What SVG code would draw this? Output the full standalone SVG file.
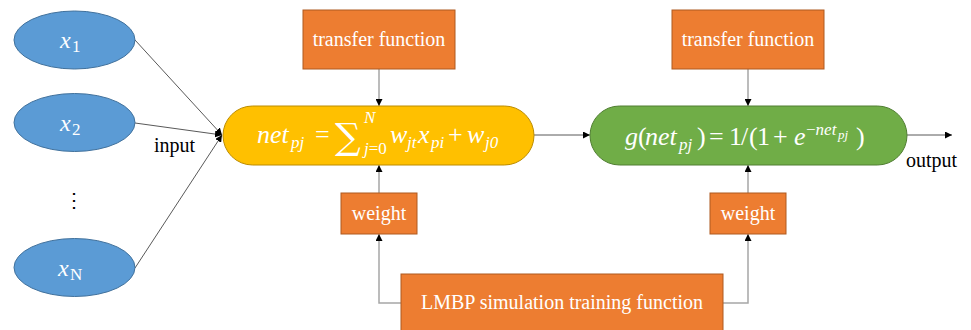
<svg xmlns="http://www.w3.org/2000/svg" width="971" height="330" viewBox="0 0 971 330">
<defs>
<marker id="ah" viewBox="0 0 10 10" refX="10" refY="5" markerWidth="7" markerHeight="7" markerUnits="userSpaceOnUse" orient="auto">
<path d="M0,0 L10,5 L0,10 z" fill="#000"/>
</marker>
<style>
.ell{fill:#5B9BD5;stroke:#41719C;stroke-width:1}
.box{fill:#ED7D31;stroke:#AE5A21;stroke-width:1}
.yel{fill:#FFC000;stroke:#BC8C00;stroke-width:1}
.grn{fill:#70AD47;stroke:#507E32;stroke-width:1}
.lbl{font-family:"Liberation Serif",serif;font-size:20px;fill:#fff;text-anchor:middle}
.blk{font-family:"Liberation Serif",serif;font-size:20px;fill:#000}
.m{font-family:"Liberation Serif","DejaVu Serif",serif;fill:#fff;font-style:italic;font-size:26px}
.e{font-size:24px}
.s{font-size:17px}
.ss{font-size:13px}
.n{font-style:normal}
.sig{font-family:"DejaVu Serif",serif;font-style:normal;font-size:36px}
.c1{fill:none;stroke:#595959;stroke-width:1;marker-end:url(#ah)}
.c2{fill:none;stroke:#A6A6A6;stroke-width:1.5;marker-end:url(#ah)}
</style>
</defs>
<g id="connectors">
<path class="c1" d="M135,40 L222,135"/>
<path class="c1" d="M135,123 L222,135"/>
<path class="c1" d="M135,268 L222,135"/>
<path class="c2" d="M379,69 L379,106"/>
<path class="c2" d="M748,69 L748,106"/>
<path class="c2" d="M379,193 L379,165"/>
<path class="c2" d="M748,193 L748,165"/>
<path class="c2" d="M401,303 L379,303 L379,234"/>
<path class="c2" d="M723,303 L748,303 L748,234"/>
<path class="c1" d="M534,135 L590,135"/>
<path class="c1" d="M907,135 L952,135"/>
</g>
<g id="x1"><ellipse class="ell" cx="74.5" cy="40" rx="60.5" ry="29"/>
<text class="m e" x="60" y="48">x<tspan class="n s" x="72" dy="4">1</tspan></text></g>
<g id="x2"><ellipse class="ell" cx="74.5" cy="122.5" rx="60.5" ry="29"/>
<text class="m e" x="60" y="131">x<tspan class="n s" x="72" dy="4">2</tspan></text></g>
<g id="dots"><text class="blk" x="74" y="207" font-size="16" text-anchor="middle">⋮</text></g>
<g id="xN"><ellipse class="ell" cx="74.5" cy="267.5" rx="60.5" ry="29"/>
<text class="m e" x="58" y="276">x<tspan class="n s" x="70" dy="4">N</tspan></text></g>
<g id="input-label"><text class="blk" x="154" y="152">input</text></g>
<g id="output-label"><text class="blk" x="906" y="167">output</text></g>
<g id="tf1"><rect class="box" x="303" y="10" width="152" height="59"/><text class="lbl" x="379" y="46">transfer function</text></g>
<g id="tf2"><rect class="box" x="672" y="10" width="152" height="59"/><text class="lbl" x="748" y="46">transfer function</text></g>
<g id="w1"><rect class="box" x="341" y="193" width="76" height="41"/><text class="lbl" x="379" y="220">weight</text></g>
<g id="w2"><rect class="box" x="710" y="193" width="76" height="41"/><text class="lbl" x="748" y="220">weight</text></g>
<g id="lmbp"><rect class="box" x="401" y="274" width="322" height="60"/><text class="lbl" x="562" y="309">LMBP simulation training function</text></g>
<g id="net">
<rect class="yel" x="223" y="106" width="311" height="59" rx="29.5"/>
<text class="m" x="257" y="143">net<tspan class="s" x="291" dy="5">pj</tspan><tspan class="n" x="315" dy="-5">=</tspan></text>
<text class="m sig" x="335" y="149">∑</text>
<text class="m s" x="364" y="123">N</text>
<text class="m s" x="364" y="154">j<tspan class="n">=0</tspan></text>
<text class="m" x="390" y="143">w<tspan class="s" x="407" dy="5">jt</tspan><tspan x="418" dy="-5">x</tspan><tspan class="s" x="431" dy="5">pi</tspan><tspan class="n" x="448" dy="-5">+</tspan><tspan x="467">w</tspan><tspan class="s" x="485" dy="5">j0</tspan></text>
</g>
<g id="sigmoid">
<rect class="grn" x="590" y="106" width="317" height="59" rx="29.5"/>
<text class="m" x="625" y="145">g<tspan class="n" x="638">(</tspan><tspan x="645">net</tspan><tspan class="s" x="679" dy="5">pj</tspan><tspan class="n" x="697" dy="-5">)</tspan><tspan class="n" x="709">=</tspan><tspan class="n" x="729">1</tspan><tspan class="n" x="741">/</tspan><tspan class="n" x="749">(</tspan><tspan class="n" x="757">1</tspan><tspan class="n" x="773">+</tspan><tspan x="794">e</tspan><tspan class="s" x="806" dy="-10"><tspan class="n">−</tspan>net</tspan><tspan class="ss" x="838" dy="4">pj</tspan><tspan class="n" x="856" dy="6">)</tspan></text>
</g>
</svg>
